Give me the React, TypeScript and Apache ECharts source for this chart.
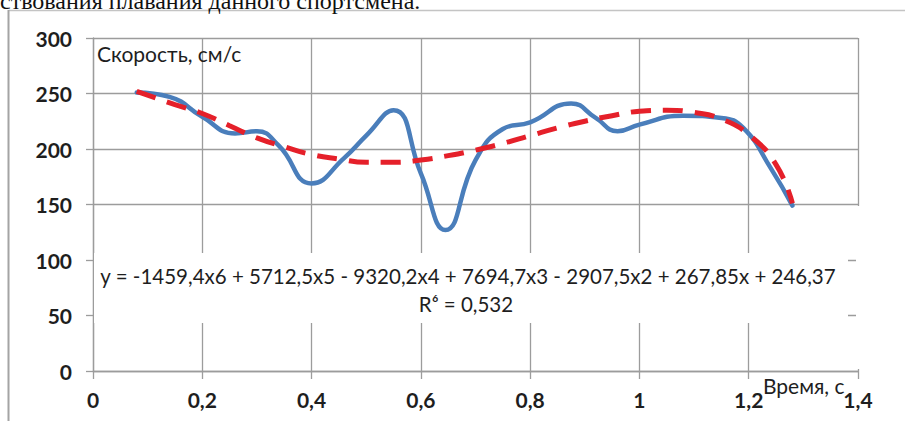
import React, { useEffect, useRef } from "react";
import * as echarts from "echarts";

const timeActual = [0.08, 0.14, 0.2, 0.26, 0.3, 0.34, 0.4, 0.46, 0.5, 0.55, 0.6, 0.645, 0.7, 0.75, 0.8, 0.875, 0.92, 0.96, 1.0, 1.08, 1.15, 1.19, 1.24, 1.28];
const speedActual = [251, 247, 229, 214, 216, 203, 169, 192, 212, 235, 178, 127, 190, 218, 224, 241, 228, 216, 222, 230, 228, 219, 183, 149];

const timeTrend = [0.08, 0.15, 0.2, 0.25, 0.3, 0.35, 0.4, 0.45, 0.5, 0.55, 0.6, 0.65, 0.7, 0.75, 0.8, 0.85, 0.9, 0.95, 1.0, 1.05, 1.1, 1.15, 1.2, 1.25, 1.28];
const speedTrend = [252, 240, 232, 221, 210, 202, 195, 191, 188, 188, 190, 194, 199, 205, 212, 219, 225, 230, 234, 235, 233, 227, 213, 186, 151];

const xTickLabels = ["0", "0,2", "0,4", "0,6", "0,8", "1", "1,2", "1,4"];
const yTickLabels = ["0", "50", "100", "150", "200", "250", "300"];

const titleText = "ствования плавания данного спортсмена.";
const yAxisName = "Скорость, см/с";
const xAxisName = "Время, с";
const equationText = "y = -1459,4x6 + 5712,5x5 - 9320,2x4 + 7694,7x3 - 2907,5x2 + 267,85x + 246,37";
const r2Text = "R⁶ = 0,532";

export default function App() {
  const ref = useRef<HTMLDivElement>(null);
  useEffect(() => {
    if (!ref.current) return;
    const chart = echarts.init(ref.current, null, { renderer: "svg" });
    const font = "Lato";
    const textColor = "#1e1e1e";
    const gridColor = "#9c9c9c";
    chart.setOption({
      animation: false,
      backgroundColor: "#ffffff",
      grid: { left: 93, right: 47, top: 38, bottom: 50 },
      xAxis: {
        type: "value",
        min: 0,
        max: 1.4,
        interval: 0.2,
        axisLine: { show: true, lineStyle: { color: gridColor, width: 1.3 } },
        axisTick: { show: true, length: 8, lineStyle: { color: gridColor, width: 1.3 } },
        splitLine: { show: true, lineStyle: { color: gridColor, width: 1.3 } },
        axisLabel: {
          margin: 18,
          color: textColor,
          fontFamily: font,
          fontWeight: "bold",
          fontSize: 21,
          formatter: (v: number) => xTickLabels[Math.round(v / 0.2)] ?? "",
        },
      },
      yAxis: {
        type: "value",
        min: 0,
        max: 300,
        interval: 50,
        axisLine: { show: true, lineStyle: { color: gridColor, width: 1.3 } },
        axisTick: { show: true, length: 7, lineStyle: { color: gridColor, width: 1.3 } },
        splitLine: { show: true, lineStyle: { color: gridColor, width: 1.3 } },
        axisLabel: {
          margin: 21,
          color: textColor,
          fontFamily: font,
          fontWeight: "bold",
          fontSize: 21,
          formatter: (v: number) => yTickLabels[Math.round(v / 50)] ?? "",
        },
      },
      series: [
        {
          type: "line",
          data: timeActual.map((t, i) => [t, speedActual[i]]),
          smooth: 0.5,
          showSymbol: false,
          symbol: "none",
          lineStyle: { color: "#4a7ebb", width: 4.5, cap: "round", join: "round" },
          z: 3,
        },
        {
          type: "line",
          data: timeTrend.map((t, i) => [t, speedTrend[i]]),
          smooth: 0.5,
          showSymbol: false,
          symbol: "none",
          lineStyle: { color: "#e5202a", width: 5, type: [20, 12], cap: "butt" },
          z: 4,
        },
      ],
      graphic: [
        { type: "line", z: 20, shape: { x1: 9, y1: 10.5, x2: 905, y2: 10.5 }, style: { stroke: "#c4c4c4", lineWidth: 1.5 } },
        { type: "line", z: 20, shape: { x1: 8.5, y1: 10, x2: 8.5, y2: 421 }, style: { stroke: "#a4a4a4", lineWidth: 2 } },
        {
          type: "text",
          z: 20,
          x: 0,
          y: 13,
          style: { text: titleText, font: "24px 'Liberation Serif'", fill: "#111", textVerticalAlign: "bottom" },
        },
        { type: "rect", z: 10, shape: { x: 94, y: 253, width: 754, height: 70 }, style: { fill: "#ffffff" } },
        { type: "rect", z: 10, shape: { x: 856, y: 206, width: 4, height: 163 }, style: { fill: "#ffffff" } },
        {
          type: "text",
          z: 11,
          x: 468,
          y: 276,
          style: { text: equationText, font: `20.5px ${font}`, fill: textColor, textAlign: "center", textVerticalAlign: "middle" },
        },
        {
          type: "text",
          z: 11,
          x: 466,
          y: 304,
          style: { text: r2Text, font: `20.5px ${font}`, fill: textColor, textAlign: "center", textVerticalAlign: "middle" },
        },
        {
          type: "text",
          z: 11,
          x: 97,
          y: 53,
          style: { text: yAxisName, font: `21px ${font}`, fill: textColor, textAlign: "left", textVerticalAlign: "middle" },
        },
        {
          type: "text",
          z: 11,
          x: 763,
          y: 385,
          style: { text: xAxisName, font: `21px ${font}`, fill: textColor, textAlign: "left", textVerticalAlign: "middle" },
        },
      ],
    });
    return () => chart.dispose();
  }, []);
  return <div ref={ref} style={{ position: "fixed", left: 0, top: 0, width: 905, height: 421 }} />;
}
